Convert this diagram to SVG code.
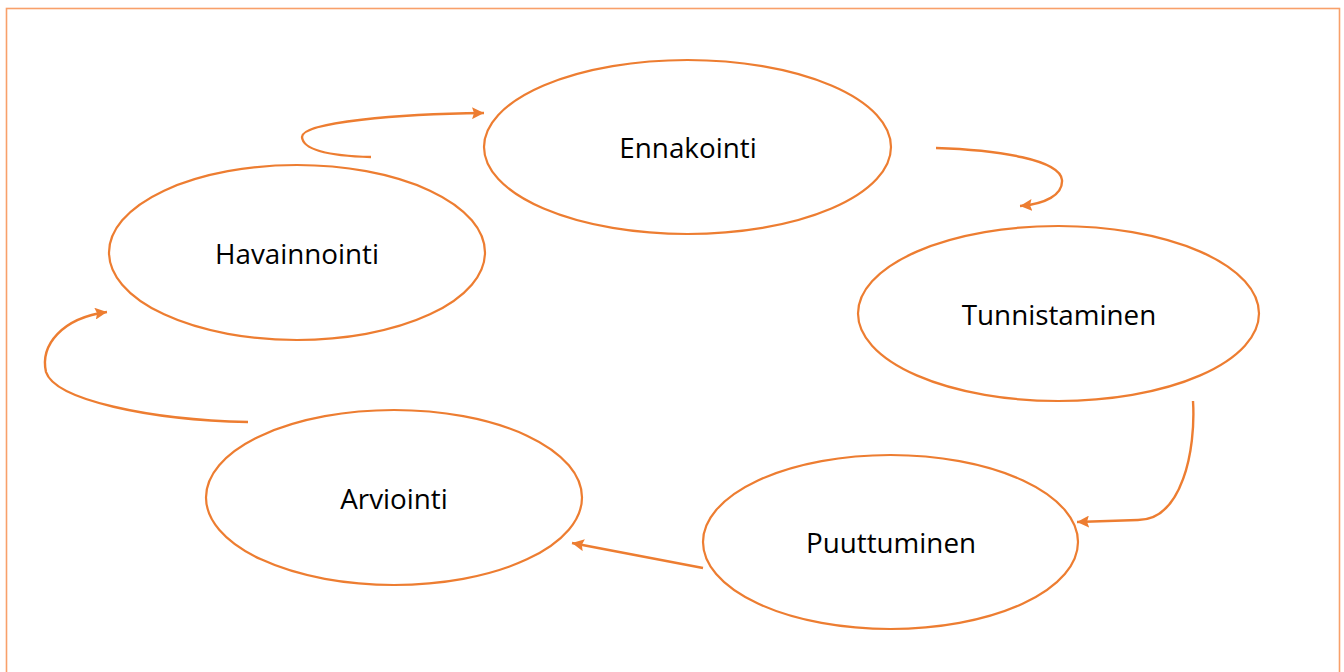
<svg xmlns="http://www.w3.org/2000/svg" width="1344" height="672" viewBox="0 0 1344 672">
<style>
.node ellipse{fill:#fff;stroke:#ED7D31;stroke-width:2.2}
.node text{font-family:"Open Sans","Liberation Sans",sans-serif;font-size:27.8px;fill:#000;text-anchor:middle}
.conn path{fill:none;stroke:#ED7D31;stroke-width:2.4}
</style>
<defs>
<marker id="ah" markerUnits="userSpaceOnUse" markerWidth="14" markerHeight="12" refX="12" refY="6" orient="auto">
<path d="M0,0 L12,6 L0,12 L2,6 Z" fill="#ED7D31"/>
</marker>
</defs>
<rect x="6.5" y="8.5" width="1333" height="680" fill="none" stroke="#F8A06A" stroke-width="1.6"/>
<g id="ennakointi" class="node"><ellipse cx="687.5" cy="147" rx="203.5" ry="87"/><text x="688" y="158">Ennakointi</text></g>
<g id="havainnointi" class="node"><ellipse cx="297" cy="252.5" rx="188" ry="87.5"/><text x="297" y="264">Havainnointi</text></g>
<g id="tunnistaminen" class="node"><ellipse cx="1058.5" cy="313.5" rx="200.5" ry="87.5"/><text x="1059" y="325">Tunnistaminen</text></g>
<g id="puuttuminen" class="node"><ellipse cx="890.5" cy="542" rx="187.5" ry="87"/><text x="891" y="553">Puuttuminen</text></g>
<g id="arviointi" class="node"><ellipse cx="394" cy="497.5" rx="188" ry="87.5"/><text x="394" y="509">Arviointi</text></g>
<g id="connectors" class="conn">
<path d="M371,157 C330,156 303,150 302,137 C302,122 400,114 484,113" marker-end="url(#ah)"/>
<path d="M936,148 C1000,150 1060,160 1062,180 C1063,195 1045,204 1020,206" marker-end="url(#ah)"/>
<path d="M1193,401 C1196,450 1182,520 1138,520 L1077,522" marker-end="url(#ah)"/>
<path d="M703,568 L572,543" marker-end="url(#ah)"/>
<path d="M248,422 C150,420 55,400 46,372 C40,345 62,318 107,312" marker-end="url(#ah)"/>
</g>
</svg>
